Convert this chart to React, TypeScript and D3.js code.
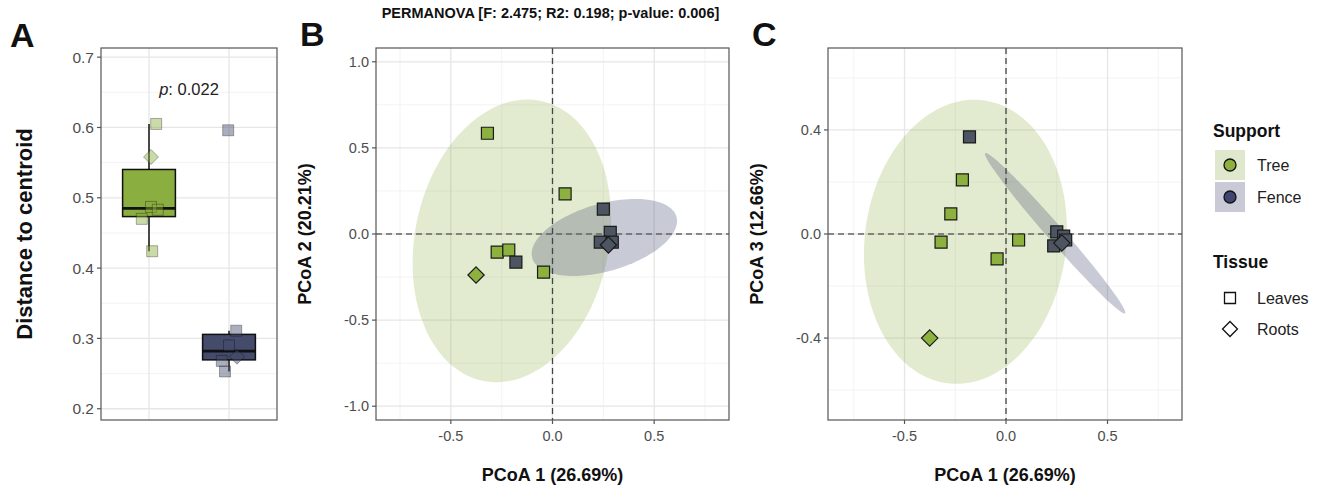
import React from 'react';
import * as d3 from 'd3';

// ---------- data ----------
const supports = ['Tree', 'Fence'];
const tissues = ['Leaves', 'Roots'];

const sampleSupport = ['Tree', 'Tree', 'Tree', 'Tree', 'Tree', 'Tree', 'Fence', 'Fence', 'Fence', 'Fence', 'Fence', 'Fence'];
const sampleTissue = ['Leaves', 'Leaves', 'Leaves', 'Leaves', 'Leaves', 'Roots', 'Leaves', 'Leaves', 'Leaves', 'Leaves', 'Leaves', 'Roots'];
const pcoa1 = [-0.32, 0.062, -0.272, -0.215, -0.044, -0.376, -0.18, 0.25, 0.284, 0.235, 0.294, 0.275];
const pcoa2 = [0.585, 0.233, -0.105, -0.093, -0.221, -0.238, -0.163, 0.145, 0.01, -0.047, -0.047, -0.064];
const pcoa3 = [-0.031, -0.023, 0.077, 0.208, -0.096, -0.4, 0.373, 0.008, -0.008, -0.046, -0.023, -0.035];

// distance to centroid (panel A), same sample order
const distance = [0.605, 0.487, 0.483, 0.47, 0.424, 0.558, 0.596, 0.311, 0.29, 0.268, 0.253, 0.274];
const jitter = [0.09, 0.025, 0.11, -0.09, 0.04, 0.025, -0.01, 0.09, 0.0, -0.09, -0.05, 0.1];

const pLabel = '0.022';
const permanovaTitle = 'PERMANOVA [F: 2.475; R2: 0.198; p-value: 0.006]';

// confidence ellipses (centre, semi-axes, angle of major axis in degrees) in data units
const ellipsesB = [
  { support: 'Tree', cx: -0.2, cy: -0.04, a: 0.826, b: 0.479, angle: 82 },
  { support: 'Fence', cx: 0.255, cy: -0.02, a: 0.375, b: 0.193, angle: 20.6 },
];
const ellipsesC = [
  { support: 'Tree', cx: -0.2, cy: -0.03, a: 0.555, b: 0.49, angle: 67.5 },
  { support: 'Fence', cx: 0.242, cy: 0.003, a: 0.462, b: 0.035, angle: -41.7 },
];

const yTicksA = [0.2, 0.3, 0.4, 0.5, 0.6, 0.7];
const yMinorA = [0.25, 0.35, 0.45, 0.55, 0.65];
const xTicksPC = [-0.5, 0, 0.5];
const xMinorPC = [-0.75, -0.25, 0.25, 0.75];
const yTicksB = [-1, -0.5, 0, 0.5, 1];
const yMinorB = [-0.75, -0.25, 0.25, 0.75];
const yTicksC = [-0.4, 0, 0.4];
const yMinorC = [-0.6, -0.2, 0.2, 0.6];

// ---------- styles ----------
const FONT = 'Liberation Sans, Arial, Helvetica, sans-serif';
const boxColor: Record<string, string> = { Tree: '#8aae3f', Fence: '#444b6b' };
const pointColor: Record<string, string> = { Tree: '#8db13f', Fence: '#4d5462' };
const ellipseColor: Record<string, string> = { Tree: '#8db040', Fence: '#4a5075' };
const legendBg: Record<string, string> = { Tree: '#dfe8cc', Fence: '#c9cad6' };
const legendDot: Record<string, string> = { Tree: '#8db03f', Fence: '#3d4570' };

const fmt = (v: number) => d3.format('.1f')(v).replace('\u2212', '-');

function shapePath(tissue: string, cx: number, cy: number, size: number) {
  if (tissue === 'Leaves') {
    const h = size / 2;
    return `M${cx - h},${cy - h}H${cx + h}V${cy + h}H${cx - h}Z`;
  }
  const r = size * 0.68;
  return `M${cx},${cy - r}L${cx + r},${cy}L${cx},${cy + r}L${cx - r},${cy}Z`;
}

function ellipsePath(e: any, xs: any, ys: any) {
  const th = (e.angle * Math.PI) / 180;
  const pts: [number, number][] = d3.range(0, 120).map((i) => {
    const t = (i / 120) * Math.PI * 2;
    const x = e.cx + e.a * Math.cos(t) * Math.cos(th) - e.b * Math.sin(t) * Math.sin(th);
    const y = e.cy + e.a * Math.cos(t) * Math.sin(th) + e.b * Math.sin(t) * Math.cos(th);
    return [xs(x), ys(y)];
  });
  return d3.line().curve(d3.curveLinearClosed)(pts) as string;
}

// ---------- panel A ----------
function PanelA() {
  const L = 101, R = 277, T = 48, B = 420;
  const y = d3.scaleLinear().domain([0.184, 0.713]).range([B, T]);
  const x = d3.scalePoint().domain(supports).range([L, R]).padding(0.6);
  const step = x.step();
  const bw = step * 0.66;
  const stats = supports.map((s) => {
    const vals = distance.filter((_, i) => sampleSupport[i] === s).sort(d3.ascending);
    const q1 = d3.quantile(vals, 0.25)!;
    const med = d3.quantile(vals, 0.5)!;
    const q3 = d3.quantile(vals, 0.75)!;
    const iqr = q3 - q1;
    const lo = d3.min(vals.filter((v) => v >= q1 - 1.5 * iqr))!;
    const hi = d3.max(vals.filter((v) => v <= q3 + 1.5 * iqr))!;
    return { s, q1, med, q3, lo, hi };
  });
  return (
    <g>
      <rect x={L} y={T} width={R - L} height={B - T} fill="#fff" />
      {yMinorA.map((v) => (
        <line key={'m' + v} x1={L} x2={R} y1={y(v)} y2={y(v)} stroke="#f3f3f3" strokeWidth={1} />
      ))}
      {yTicksA.map((v) => (
        <line key={'g' + v} x1={L} x2={R} y1={y(v)} y2={y(v)} stroke="#e6e6e6" strokeWidth={1.3} />
      ))}
      {supports.map((s) => (
        <line key={'gx' + s} x1={x(s)} x2={x(s)} y1={T} y2={B} stroke="#e6e6e6" strokeWidth={1.3} />
      ))}
      {stats.map((st) => {
        const cx = x(st.s)!;
        return (
          <g key={st.s}>
            <line x1={cx} x2={cx} y1={y(st.hi)} y2={y(st.q3)} stroke="#111" strokeWidth={1.5} />
            <line x1={cx} x2={cx} y1={y(st.q1)} y2={y(st.lo)} stroke="#111" strokeWidth={1.5} />
            <rect x={cx - bw / 2} y={y(st.q3)} width={bw} height={y(st.q1) - y(st.q3)} fill={boxColor[st.s]} stroke="#111" strokeWidth={1.5} />
            <line x1={cx - bw / 2} x2={cx + bw / 2} y1={y(st.med)} y2={y(st.med)} stroke="#111" strokeWidth={2.6} />
          </g>
        );
      })}
      {distance.map((v, i) => {
        const cx = x(sampleSupport[i])! + jitter[i] * step;
        return (
          <path
            key={'p' + i}
            d={shapePath(sampleTissue[i], cx, y(v), 11)}
            fill={boxColor[sampleSupport[i]]}
            fillOpacity={0.45}
            stroke="#000"
            strokeOpacity={0.3}
            strokeWidth={1}
          />
        );
      })}
      <text x={(L + R) / 2} y={95} textAnchor="middle" fontFamily={FONT} fontSize={16.5} fill="#222">
        <tspan fontStyle="italic">p</tspan>: {pLabel}
      </text>
      <rect x={L} y={T} width={R - L} height={B - T} fill="none" stroke="#555" strokeWidth={1.2} />
      {yTicksA.map((v) => (
        <g key={'t' + v}>
          <line x1={L - 4} x2={L} y1={y(v)} y2={y(v)} stroke="#555" strokeWidth={1.2} />
          <text x={L - 7} y={y(v)} dy="0.35em" textAnchor="end" fontFamily={FONT} fontSize={15.5} fill="#4d4d4d">
            {fmt(v)}
          </text>
        </g>
      ))}
      <text
        transform={`translate(24,${(T + B) / 2}) rotate(-90)`}
        dy="0.35em"
        textAnchor="middle"
        fontFamily={FONT}
        fontSize={22}
        fontWeight="bold"
        fill="#111"
      >
        Distance to centroid
      </text>
      <text x={10} y={47} fontFamily={FONT} fontSize={34} fontWeight="bold" fill="#111">A</text>
    </g>
  );
}

// ---------- PCoA panels ----------
function PcoaPanel(props: {
  L: number; R: number; xDom: [number, number]; yDom: [number, number];
  yVals: number[]; ellipses: any[]; yTicks: number[]; yMinor: number[];
  yTitle: string; letter: string; title?: string;
}) {
  const { L, R, xDom, yDom, yVals, ellipses, yTicks, yMinor, yTitle, letter, title } = props;
  const T = 48, B = 420;
  const x = d3.scaleLinear().domain(xDom).range([L, R]);
  const y = d3.scaleLinear().domain(yDom).range([B, T]);
  const order = d3.range(pcoa1.length);
  return (
    <g>
      <rect x={L} y={T} width={R - L} height={B - T} fill="#fff" />
      {xMinorPC.map((v) => (
        <line key={'xm' + v} x1={x(v)} x2={x(v)} y1={T} y2={B} stroke="#f3f3f3" strokeWidth={1} />
      ))}
      {yMinor.map((v) => (
        <line key={'ym' + v} x1={L} x2={R} y1={y(v)} y2={y(v)} stroke="#f3f3f3" strokeWidth={1} />
      ))}
      {xTicksPC.map((v) => (
        <line key={'xg' + v} x1={x(v)} x2={x(v)} y1={T} y2={B} stroke="#e6e6e6" strokeWidth={1.3} />
      ))}
      {yTicks.map((v) => (
        <line key={'yg' + v} x1={L} x2={R} y1={y(v)} y2={y(v)} stroke="#e6e6e6" strokeWidth={1.3} />
      ))}
      {ellipses.map((e) => (
        <path key={e.support} d={ellipsePath(e, x, y)} fill={ellipseColor[e.support]} fillOpacity={e.support === 'Tree' ? 0.25 : 0.3} stroke="none" />
      ))}
      <line x1={x(0)} x2={x(0)} y1={T} y2={B} stroke="#444" strokeWidth={1.3} strokeDasharray="6,4" />
      <line x1={L} x2={R} y1={y(0)} y2={y(0)} stroke="#666" strokeWidth={1.3} strokeDasharray="6,4" />
      {order.map((i) => (
        <path
          key={'pt' + i}
          d={shapePath(sampleTissue[i], x(pcoa1[i]), y(yVals[i]), 12)}
          fill={pointColor[sampleSupport[i]]}
          stroke="#1a1a1a"
          strokeWidth={1.2}
        />
      ))}
      <rect x={L} y={T} width={R - L} height={B - T} fill="none" stroke="#555" strokeWidth={1.2} />
      {xTicksPC.map((v) => (
        <g key={'xt' + v}>
          <line x1={x(v)} x2={x(v)} y1={B} y2={B + 4} stroke="#555" strokeWidth={1.2} />
          <text x={x(v)} y={B + 21} textAnchor="middle" fontFamily={FONT} fontSize={14.5} fill="#4d4d4d">
            {fmt(v)}
          </text>
        </g>
      ))}
      {yTicks.map((v) => (
        <g key={'yt' + v}>
          <line x1={L - 4} x2={L} y1={y(v)} y2={y(v)} stroke="#555" strokeWidth={1.2} />
          <text x={L - 7} y={y(v)} dy="0.35em" textAnchor="end" fontFamily={FONT} fontSize={14.5} fill="#4d4d4d">
            {fmt(v)}
          </text>
        </g>
      ))}
      <text x={(L + R) / 2} y={481} textAnchor="middle" fontFamily={FONT} fontSize={18} fontWeight="bold" fill="#111">
        PCoA 1 (26.69%)
      </text>
      <text
        transform={`translate(${L - 71},${(T + B) / 2}) rotate(-90)`}
        dy="0.35em"
        textAnchor="middle"
        fontFamily={FONT}
        fontSize={18}
        fontWeight="bold"
        fill="#111"
      >
        {yTitle}
      </text>
      <text x={L - 76} y={46} fontFamily={FONT} fontSize={34} fontWeight="bold" fill="#111">{letter}</text>
      {title ? (
        <text x={(L + R) / 2 - 2} y={18} textAnchor="middle" fontFamily={FONT} fontSize={14.5} fontWeight="bold" fill="#111">
          {title}
        </text>
      ) : null}
    </g>
  );
}

function Legend() {
  const x0 = 1213;
  return (
    <g fontFamily={FONT}>
      <text x={x0} y={137} fontSize={17.5} fontWeight="bold" fill="#111">Support</text>
      {supports.map((s, i) => {
        const cy = 165 + i * 32;
        return (
          <g key={s}>
            <rect x={x0 + 2} y={cy - 15} width={30} height={30} fill={legendBg[s]} />
            <circle cx={x0 + 17} cy={cy} r={6} fill={legendDot[s]} stroke="#111" strokeWidth={1.3} />
            <text x={x0 + 44} y={cy} dy="0.35em" fontSize={16} fill="#222">{s}</text>
          </g>
        );
      })}
      <text x={x0} y={268} fontSize={17.5} fontWeight="bold" fill="#111">Tissue</text>
      {tissues.map((t, i) => {
        const cy = 298 + i * 31;
        return (
          <g key={t}>
            <path d={shapePath(t, x0 + 17, cy, 11)} fill="none" stroke="#111" strokeWidth={1.3} />
            <text x={x0 + 44} y={cy} dy="0.35em" fontSize={16} fill="#222">{t}</text>
          </g>
        );
      })}
    </g>
  );
}

export default function App() {
  return (
    <svg
      width={1320}
      height={486}
      viewBox="0 0 1320 486"
      style={{ position: 'absolute', left: 0, top: 0, display: 'block', background: '#fff' }}
    >
      <rect x={0} y={0} width={1320} height={486} fill="#fff" />
      <PanelA />
      <PcoaPanel
        L={376}
        R={729}
        xDom={[-0.868, 0.868]}
        yDom={[-1.08, 1.08]}
        yVals={pcoa2}
        ellipses={ellipsesB}
        yTicks={yTicksB}
        yMinor={yMinorB}
        yTitle="PCoA 2 (20.21%)"
        letter="B"
        title={permanovaTitle}
      />
      <PcoaPanel
        L={828}
        R={1182}
        xDom={[-0.877, 0.867]}
        yDom={[-0.715, 0.715]}
        yVals={pcoa3}
        ellipses={ellipsesC}
        yTicks={yTicksC}
        yMinor={yMinorC}
        yTitle="PCoA 3 (12.66%)"
        letter="C"
      />
      <Legend />
    </svg>
  );
}
